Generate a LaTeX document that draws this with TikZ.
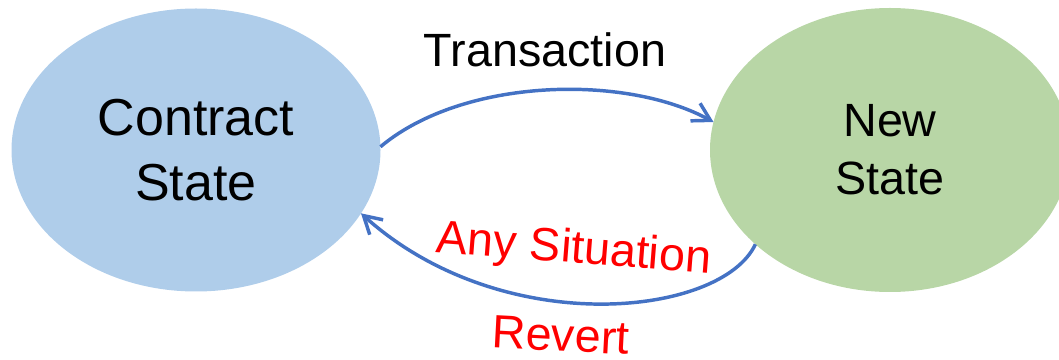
\documentclass[tikz,border=0pt]{standalone}
\usepackage{fontspec}
\setmainfont{Liberation Sans}
\usetikzlibrary{arrows.meta,shapes.geometric}
\definecolor{stateblue}{HTML}{AFCDEA}
\definecolor{stategreen}{HTML}{B8D6A6}
\definecolor{linkblue}{HTML}{4472C4}
\definecolor{alertred}{HTML}{FF0000}
\begin{document}
\begin{tikzpicture}[x=0.75pt,y=0.75pt,
  statenode/.style={ellipse, draw=none, inner sep=0pt, outer sep=0pt, align=center},
  link/.style={draw=linkblue, line width=2.6pt, -{Straight Barb[length=13pt,width=15pt]}},
  plainlabel/.style={anchor=base, inner sep=0pt, font=\fontsize{35}{42}\selectfont},
  redlabel/.style={plainlabel, text=alertred}]
\useasboundingbox (0,0) rectangle (1059,360);
\clip (0,0) rectangle (1059,360);

% the two states
\node[statenode, fill=stateblue, minimum width=276.75pt, minimum height=212.25pt,
      font=\fontsize{39}{48.75}\selectfont] (cs) at (196,210) {Contract\\State};
\node[statenode, fill=stategreen, minimum width=270pt, minimum height=213pt,
      font=\fontsize{35}{43.5}\selectfont] (ns) at (890,210) {New\\State};

% forward transition
\node[plainlabel] (tx) at (545,293) {Transaction};
\draw[link] (cs.1.6) .. controls +(40:108) and +(151.3:100) .. (ns.171.7);

% rollback transition
\draw[link] (ns.215.3) .. controls +(245:80) and +(-42:190) .. (cs.-21.6);
\node[redlabel, rotate=-4.5] (sit) at (573,97) {Any Situation};
\node[redlabel, rotate=-3] (rev) at (560,9) {Revert};
\end{tikzpicture}
\end{document}
